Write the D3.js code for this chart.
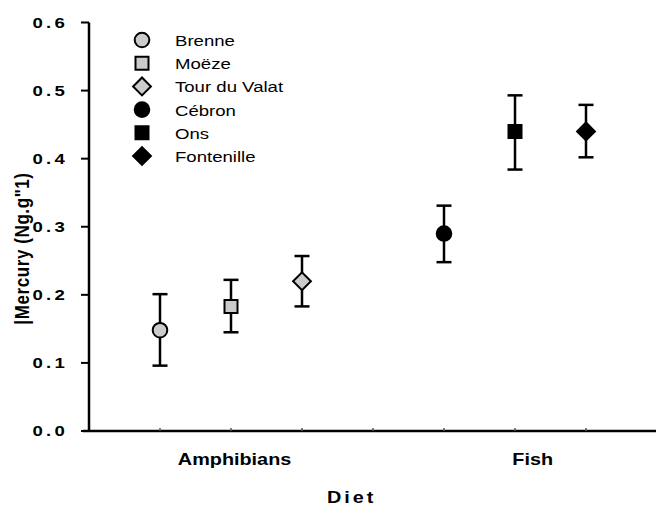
<!DOCTYPE html>
<html>
<head>
<meta charset="utf-8">
<script src="https://cdn.jsdelivr.net/npm/d3@7"></script>
<style>
  body { margin: 0; background: #fff; }
  text { font-family: Arial, "Liberation Sans", sans-serif; fill: #000; }
</style>
</head>
<body>
<svg id="chart" width="656" height="508"></svg>
<script>
    const sites = ["Brenne", "Moëze", "Tour du Valat", "Cébron", "Ons", "Fontenille"];
    const sitePos = [1, 2, 3, 5, 6, 7];
    const means = [0.148, 0.183, 0.220, 0.290, 0.440, 0.440];
    const upper = [0.201, 0.222, 0.257, 0.331, 0.493, 0.479];
    const lower = [0.096, 0.145, 0.183, 0.248, 0.384, 0.402];
    const shapes = ["circle", "square", "diamond", "circle", "square", "diamond"];
    const fills = ["#cacccb", "#cacccb", "#cacccb", "#000", "#000", "#000"];

    const categories = ["Amphibians", "Fish"];
    const categoryPos = [2.05, 6.25];
    const yTicks = [0, 0.1, 0.2, 0.3, 0.4, 0.5, 0.6];
    const xTicks = [1, 2, 3, 4, 5, 6, 7];

    // the source picture is stretched sideways, so text is widened too
    const stretch = 1.24;

    const svg = d3.select("#chart");
    const x = d3.scaleLinear().domain([0, 8]).range([89, 657]);
    const y = d3.scaleLinear().domain([0, 0.6]).range([431, 22.5]);

    // marker path builder
    function symbolPath(shape) {
        if (shape === "circle") return d3.symbol(d3.symbolCircle, Math.PI * 7.3 * 7.3)();
        if (shape === "square") return d3.symbol(d3.symbolSquare, 13 * 13)();
        return d3.symbol(d3.symbolSquare, 12.6 * 12.6)();
    }
    function symbolTransform(shape, cx, cy) {
        return shape === "diamond"
            ? `translate(${cx},${cy}) rotate(45)`
            : `translate(${cx},${cy})`;
    }

    // y axis
    const yAxis = svg.append("g").attr("transform", `translate(${x(0)},0)`);
    yAxis.append("line")
        .attr("y1", y(0.6)).attr("y2", y(0) + 1)
        .attr("stroke", "#000").attr("stroke-width", 2.5);
    yAxis.selectAll(".ytick").data(yTicks).enter().append("line")
        .attr("x1", -8).attr("x2", 0)
        .attr("y1", (d) => y(d)).attr("y2", (d) => y(d))
        .attr("stroke", "#000").attr("stroke-width", 2);
    yAxis.selectAll(".ylab").data(yTicks).enter().append("text")
        .attr("transform", (d) => `translate(-21,${y(d) + 5}) scale(${stretch},1)`)
        .attr("text-anchor", "end")
        .attr("font-size", 15)
        .attr("font-weight", "bold")
        .attr("letter-spacing", 2.6)
        .text((d) => d.toFixed(1));

    // x axis
    const xAxis = svg.append("g").attr("transform", `translate(0,${y(0)})`);
    xAxis.append("line")
        .attr("x1", x(0) - 6).attr("x2", 656)
        .attr("stroke", "#000").attr("stroke-width", 2.5);
    xAxis.selectAll(".xtick").data(xTicks).enter().append("line")
        .attr("x1", (d) => x(d)).attr("x2", (d) => x(d))
        .attr("y1", -3).attr("y2", 0)
        .attr("stroke", "#555").attr("stroke-width", 1.5);
    xAxis.selectAll(".xlab").data(categories).enter().append("text")
        .attr("transform", (d, i) => `translate(${x(categoryPos[i])},34) scale(${stretch},1)`)
        .attr("text-anchor", "middle")
        .attr("font-size", 16)
        .attr("font-weight", "bold")
        .text((d) => d);

    // axis titles
    svg.append("text")
        .attr("transform", `translate(${x(3.7)},503) scale(${stretch},1)`)
        .attr("text-anchor", "middle")
        .attr("font-size", 16)
        .attr("font-weight", "bold")
        .attr("letter-spacing", 2.4)
        .text("Diet");

    svg.append("text")
        .attr("transform", `translate(29,${y(0.268)}) scale(${stretch},1) rotate(-90)`)
        .attr("text-anchor", "middle")
        .attr("font-size", 17)
        .attr("font-weight", "bold")
        .attr("letter-spacing", 0.6)
        .text("|Mercury (Ng.g\"1)");

    // error bars
    const bars = svg.append("g")
        .selectAll(".err").data(sites).enter().append("g")
        .attr("stroke", "#000").attr("stroke-width", 2.5);
    bars.append("line")
        .attr("x1", (d, i) => x(sitePos[i])).attr("x2", (d, i) => x(sitePos[i]))
        .attr("y1", (d, i) => y(upper[i])).attr("y2", (d, i) => y(lower[i]));
    bars.append("line")
        .attr("x1", (d, i) => x(sitePos[i]) - 7.5).attr("x2", (d, i) => x(sitePos[i]) + 7.5)
        .attr("y1", (d, i) => y(upper[i])).attr("y2", (d, i) => y(upper[i]));
    bars.append("line")
        .attr("x1", (d, i) => x(sitePos[i]) - 7.5).attr("x2", (d, i) => x(sitePos[i]) + 7.5)
        .attr("y1", (d, i) => y(lower[i])).attr("y2", (d, i) => y(lower[i]));

    // markers
    svg.append("g")
        .selectAll(".pt").data(sites).enter().append("path")
        .attr("d", (d, i) => symbolPath(shapes[i]))
        .attr("transform", (d, i) => symbolTransform(shapes[i], x(sitePos[i]), y(means[i])))
        .attr("fill", (d, i) => fills[i])
        .attr("stroke", "#000").attr("stroke-width", 2);

    // legend
    const legend = svg.append("g")
        .selectAll(".leg").data(sites).enter().append("g")
        .attr("transform", (d, i) => `translate(0,${40 + i * 23.2})`);
    legend.append("path")
        .attr("d", (d, i) => symbolPath(shapes[i]))
        .attr("transform", (d, i) => symbolTransform(shapes[i], 142, 0))
        .attr("fill", (d, i) => fills[i])
        .attr("stroke", "#000").attr("stroke-width", 2);
    legend.append("text")
        .attr("transform", `translate(175,6) scale(${stretch},1)`)
        .attr("font-size", 15)
        .text((d) => d);
</script>
</body>
</html>
